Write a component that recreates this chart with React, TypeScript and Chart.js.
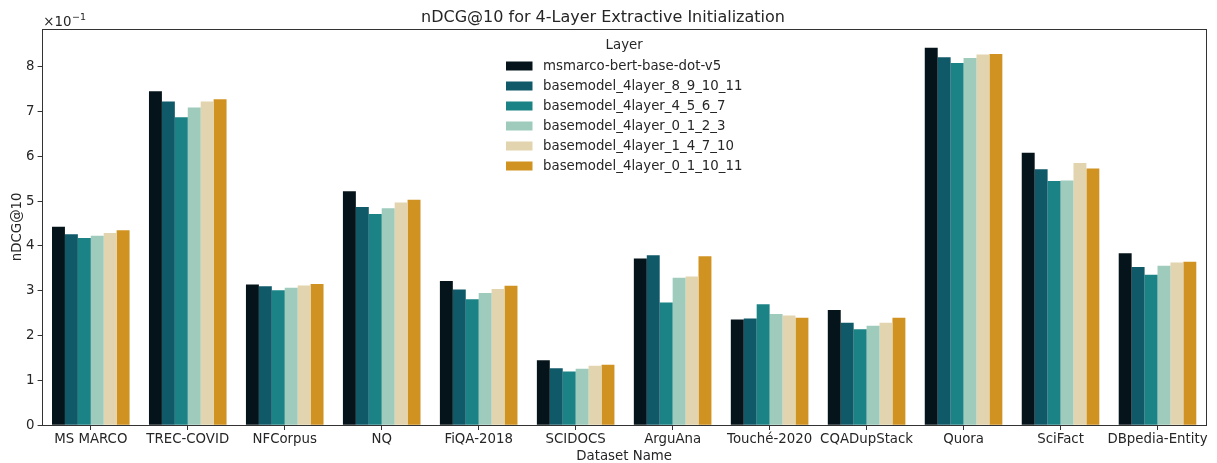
import React, { useEffect, useRef } from "react";
import { Chart, registerables } from "chart.js";

Chart.register(...registerables);

const categories = [
  "MS MARCO", "TREC-COVID", "NFCorpus", "NQ", "FiQA-2018", "SCIDOCS",
  "ArguAna", "Touché-2020", "CQADupStack", "Quora", "SciFact", "DBpedia-Entity",
];

const seriesNames = [
  "msmarco-bert-base-dot-v5",
  "basemodel_4layer_8_9_10_11",
  "basemodel_4layer_4_5_6_7",
  "basemodel_4layer_0_1_2_3",
  "basemodel_4layer_1_4_7_10",
  "basemodel_4layer_0_1_10_11",
];

const seriesColors = ["#05141a", "#0f5968", "#1b8385", "#9ecbbb", "#e2d4ae", "#d09322"];

const msmarcoBase = [0.443, 0.745, 0.314, 0.522, 0.322, 0.145, 0.372, 0.236, 0.257, 0.842, 0.608, 0.384];
const layers891011 = [0.426, 0.722, 0.310, 0.487, 0.303, 0.127, 0.379, 0.238, 0.229, 0.821, 0.571, 0.353];
const layers4567 = [0.418, 0.687, 0.301, 0.471, 0.281, 0.120, 0.274, 0.270, 0.214, 0.808, 0.545, 0.336];
const layers0123 = [0.423, 0.709, 0.307, 0.484, 0.295, 0.126, 0.329, 0.248, 0.222, 0.819, 0.546, 0.356];
const layers14710 = [0.429, 0.722, 0.312, 0.497, 0.304, 0.133, 0.332, 0.245, 0.229, 0.827, 0.585, 0.363];
const layers011011 = [0.435, 0.727, 0.315, 0.503, 0.311, 0.135, 0.377, 0.240, 0.240, 0.828, 0.573, 0.365];

const seriesValues = [msmarcoBase, layers891011, layers4567, layers0123, layers14710, layers011011];

const yTicks = [0, 0.1, 0.2, 0.3, 0.4, 0.5, 0.6, 0.7, 0.8];
const yMax = 0.885;

const FONT = "'DejaVu Sans', sans-serif";
const TEXT = "#262626";
const EDGE = "#333333";

const framePlugin = {
  id: "frameAndExtras",
  afterDatasetsDraw(chart: any) {
    const { ctx, chartArea } = chart;
    const { left, right, top, bottom } = chartArea;
    ctx.save();
    ctx.strokeStyle = EDGE;
    ctx.lineWidth = 1;
    ctx.strokeRect(Math.round(left) + 0.5, Math.round(top) + 0.5, Math.round(right) - Math.round(left), Math.round(bottom) - Math.round(top));
    ctx.restore();
  },
  afterDraw(chart: any) {
    const { ctx, chartArea } = chart;
    const { left, right, top } = chartArea;
    ctx.save();
    ctx.fillStyle = TEXT;
    // offset text ×10^-1
    ctx.font = `13.33px ${FONT}`;
    ctx.textAlign = "left";
    ctx.textBaseline = "alphabetic";
    const base = "×10";
    ctx.fillText(base, left + 1, top - 3);
    const w = ctx.measureText(base).width;
    ctx.font = `9.5px ${FONT}`;
    ctx.fillText("−1", left + 1 + w + 0.5, top - 9);

    // legend
    const cx = (left + right) / 2;
    ctx.font = `13.33px ${FONT}`;
    ctx.textAlign = "center";
    ctx.textBaseline = "middle";
    ctx.fillText("Layer", cx, 46);
    const ds = chart.data.datasets;
    ctx.textAlign = "left";
    for (let i = 0; i < ds.length; i++) {
      const y = 66 + i * 20;
      ctx.fillStyle = ds[i].backgroundColor;
      ctx.fillRect(506, y - 4.5, 26.5, 9);
      ctx.fillStyle = TEXT;
      ctx.fillText(ds[i].label, 543, y + 0.5);
    }
    ctx.restore();
  },
};

export default function App() {
  const ref = useRef<HTMLCanvasElement | null>(null);
  useEffect(() => {
    if (!ref.current) return;
    const chart = new Chart(ref.current, {
      type: "bar",
      data: {
        labels: categories,
        datasets: seriesNames.map((name, i) => ({
          label: name,
          data: seriesValues[i],
          backgroundColor: seriesColors[i],
          borderWidth: 0,
          categoryPercentage: 0.8,
          barPercentage: 1.0,
        })),
      },
      options: {
        animation: false,
        responsive: false,
        maintainAspectRatio: false,
        devicePixelRatio: 1,
        layout: { padding: { left: 0, right: 11, top: 0, bottom: 0 } },
        plugins: {
          legend: { display: false },
          tooltip: { enabled: false },
          title: {
            display: true,
            text: "nDCG@10 for 4-Layer Extractive Initialization",
            color: TEXT,
            font: { family: FONT, size: 16, weight: "normal", lineHeight: 1.2 },
            padding: { top: 8, bottom: 1.3 },
          },
        },
        scales: {
          x: {
            type: "category",
            offset: true,
            grid: { display: true, offset: false, drawOnChartArea: false, drawTicks: true, tickLength: 4.7, tickColor: EDGE, tickWidth: 1 },
            border: { display: false },
            ticks: { color: TEXT, font: { family: FONT, size: 13.33 }, padding: 1.5, maxRotation: 0, autoSkip: false },
            title: {
              display: true,
              text: "Dataset Name",
              color: TEXT,
              font: { family: FONT, size: 13.33, lineHeight: 1 },
              padding: { top: 0, bottom: 0 },
            },
            afterFit: (scale: any) => { scale.height = 37.7; },
          },
          y: {
            type: "linear",
            min: 0,
            max: yMax,
            grid: { display: true, drawOnChartArea: false, drawTicks: true, tickLength: 4.7, tickColor: EDGE, tickWidth: 1 },
            border: { display: false },
            ticks: {
              color: TEXT,
              font: { family: FONT, size: 13.33 },
              padding: 3,
              stepSize: 0.1,
              callback: (v: any) => String(Math.round(Number(v) * 10)),
            },
            afterBuildTicks: (scale: any) => {
              scale.ticks = yTicks.map((v) => ({ value: v }));
            },
            title: {
              display: true,
              text: "nDCG@10",
              color: TEXT,
              font: { family: FONT, size: 13.33, lineHeight: 1 },
              padding: { top: 11, bottom: 0 },
            },
            afterFit: (scale: any) => { scale.width = 42.3; },
          },
        },
      },
      plugins: [framePlugin],
    });
    return () => chart.destroy();
  }, []);
  return (
    <div style={{ position: "absolute", left: 0, top: 0, width: 1217, height: 463, background: "#fff" }}>
      <canvas ref={ref} width={1217} height={463} style={{ width: 1217, height: 463 }} />
    </div>
  );
}
